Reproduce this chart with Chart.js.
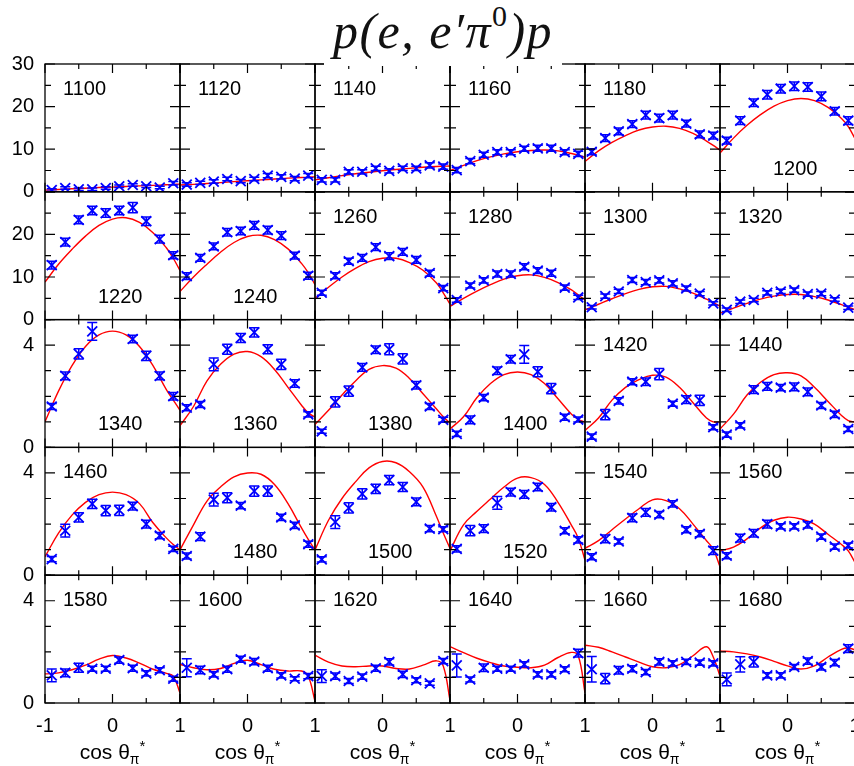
<!DOCTYPE html>
<html><head><meta charset="utf-8">
<script src="https://cdn.jsdelivr.net/npm/chart.js@4.4.1/dist/chart.umd.min.js"></script>
<style>
html,body{margin:0;padding:0;background:#fff;width:854px;height:766px;overflow:hidden}
#wrap{position:relative;width:854px;height:766px;overflow:hidden;background:#fff}
#wrap canvas{position:absolute}
#title{position:absolute;left:324px;top:0;width:238px;height:66px;background:#fff;z-index:5;
 font-family:"Liberation Serif","DejaVu Serif",serif;font-style:italic;font-size:50px;line-height:62px;
 letter-spacing:1.5px;text-align:center;color:#111;white-space:nowrap}
#title sup{font-style:normal;font-size:30px;vertical-align:baseline;position:relative;top:-22px}
</style></head>
<body><div id="wrap"><div id="title">p(e, e′π<sup>0</sup>)p</div></div>
<script>
// ---------- data ----------
const ENERGY = [1100,1120,1140,1160,1180,1200,1220,1240,1260,1280,1300,1320,1340,1360,1380,1400,1420,1440,1460,1480,1500,1520,1540,1560,1580,1600,1620,1640,1660,1680];
const LABEL_AT_BOTTOM = [1200,1220,1240,1340,1360,1380,1400,1480,1500,1520];
const X_POINTS = [-0.9,-0.7,-0.5,-0.3,-0.1,0.1,0.3,0.5,0.7,0.9];
const X_MODEL = [-1,-0.8,-0.6,-0.4,-0.2,0,0.2,0.4,0.6,0.8,0.9,1];
const X_TICKS = [-1,-0.5,0,0.5,1];
const X_LABELED = [-1,0,1];
const Y_TICKS_BIG = [0,5,10,15,20,25,30];
const Y_LABELS_ROW1 = [0,10,20,30];
const Y_LABELS_ROW2 = [0,10,20];
const Y_TICKS_SMALL = [0,1,2,3,4,5];
const Y_LABELS_SMALL = [0,4];

const d1100=[0.4,0.9,0.6,0.6,0.9,1.3,1.6,1.3,1.0,2.0];
const e1100=[0.3,0.3,0.3,0.3,0.3,0.3,0.3,0.3,0.3,0.4];
const m1100=[0.4,0.55,0.7,0.85,1.0,1.1,1.25,1.4,1.5,1.65,1.72,1.8];
const d1120=[1.7,2.1,2.4,3.0,2.5,3.0,3.8,3.5,3.1,3.8];
const e1120=[0.4,0.4,0.4,0.4,0.4,0.4,0.5,0.5,0.5,0.5];
const m1120=[1.6,1.75,1.95,2.15,2.4,2.6,2.8,3.0,3.2,3.35,3.45,3.5];
const d1140=[2.8,2.8,4.7,4.7,5.5,4.9,5.5,5.5,6.2,5.9];
const e1140=[0.5,0.5,0.5,0.5,0.5,0.5,0.5,0.5,0.6,0.6];
const m1140=[2.8,3.3,3.8,4.25,4.6,4.95,5.25,5.5,5.75,5.95,6.0,6.05];
const d1160=[5.1,7.2,8.7,9.3,9.3,10.1,10.2,10.2,9.3,8.9];
const e1160=[0.6,0.6,0.6,0.6,0.6,0.6,0.7,0.7,0.6,0.6];
const m1160=[5.0,6.2,7.3,8.2,8.9,9.4,9.7,9.8,9.6,9.0,8.6,8.1];
const d1180=[9.4,12.6,14.2,15.9,18.0,17.3,18.0,16.0,13.5,13.2];
const e1180=[0.7,0.8,0.8,0.8,0.9,0.9,0.9,0.8,0.8,0.8];
const m1180=[7.1,9.6,11.6,13.2,14.5,15.2,15.4,14.9,13.7,11.9,10.9,9.8];
const d1200=[12.0,16.7,20.9,22.8,24.2,24.8,24.6,22.4,18.9,16.7];
const e1200=[0.8,0.9,0.9,1.0,1.0,1.0,1.0,1.0,0.9,0.9];
const m1200=[9.1,12.6,15.6,18.1,20.1,21.4,21.9,21.4,19.8,17.2,15.3,12.5];
const d1220=[12.8,18.2,23.4,25.6,25.0,25.6,26.3,23.1,18.9,15.1];
const e1220=[0.9,0.9,0.9,1.0,1.0,1.0,1.2,1.0,0.9,0.8];
const m1220=[8.8,13.0,16.5,19.6,22.1,23.6,23.9,22.8,20.4,16.8,14.4,11.5];
const d1240=[10.2,14.5,17.2,20.5,20.8,22.1,21.0,19.7,15.0,10.3];
const e1240=[0.8,0.8,0.8,0.9,0.9,0.9,0.9,0.9,0.8,0.8];
const m1240=[6.6,10.0,13.0,15.8,18.1,19.5,19.8,18.8,16.6,13.2,11.0,8.2];
const d1260=[6.3,10.3,13.7,14.5,17.0,14.9,15.9,14.0,10.9,7.4];
const e1260=[0.6,0.7,0.7,0.8,0.8,0.8,0.8,0.8,0.7,0.6];
const m1260=[5.0,7.6,10.0,12.0,13.6,14.4,14.4,13.4,11.6,8.6,6.3,3.6];
const d1280=[4.6,8.0,9.2,10.7,10.7,12.4,11.5,10.9,7.5,5.2];
const e1280=[0.5,0.6,0.6,0.7,0.7,0.7,0.7,0.7,0.6,0.5];
const m1280=[3.1,5.0,6.7,8.2,9.5,10.3,10.5,9.9,8.7,7.0,5.8,4.6];
const d1300=[2.9,5.5,6.6,9.3,8.8,9.2,8.5,7.3,6.1,3.8];
const e1300=[0.4,0.5,0.5,0.6,0.6,0.6,0.6,0.6,0.5,0.4];
const m1300=[2.3,3.6,4.9,6.1,7.1,7.7,7.8,7.2,6.2,4.8,4.0,3.1];
const d1320=[2.3,4.2,4.6,6.3,6.6,6.9,6.0,6.1,4.7,2.8];
const e1320=[0.4,0.4,0.4,0.5,0.5,0.5,0.5,0.5,0.4,0.4];
const m1320=[1.5,2.7,3.8,4.8,5.5,5.9,5.9,5.4,4.6,3.5,2.9,2.3];
const d1340=[1.6,2.8,3.66,4.54,null,null,4.24,3.58,2.8,2.0];
const e1340=[0.12,0.15,0.2,0.35,0,0,0.15,0.18,0.15,0.15];
const m1340=[1.0,2.2,3.2,3.95,4.4,4.55,4.4,3.95,3.2,2.25,1.85,1.45];
const d1360=[1.55,1.68,3.25,3.84,4.28,4.5,3.84,3.25,2.5,1.29];
const e1360=[0.12,0.12,0.25,0.2,0.18,0.18,0.18,0.2,0.15,0.1];
const m1360=[0.85,1.6,2.6,3.25,3.65,3.75,3.55,3.05,2.35,1.65,1.35,1.18];
const d1380=[0.63,1.78,2.2,3.13,3.82,3.84,3.46,2.43,1.6,1.08];
const e1380=[0.08,0.2,0.2,0.15,0.15,0.22,0.2,0.15,0.12,0.1];
const m1380=[0.9,1.45,2.05,2.6,3.05,3.2,3.1,2.7,2.1,1.5,1.2,0.95];
const d1400=[0.53,1.08,1.95,3.0,3.45,3.64,2.96,2.3,1.18,1.09];
const e1400=[0.1,0.15,0.12,0.15,0.15,0.35,0.2,0.2,0.12,0.1];
const m1400=[0.72,1.2,1.95,2.5,2.85,2.95,2.85,2.5,1.9,1.3,1.1,0.99];
const d1420=[0.42,1.28,1.82,2.57,2.57,2.87,1.71,1.87,1.84,0.79];
const e1420=[0.1,0.2,0.12,0.12,0.15,0.22,0.1,0.15,0.2,0.1];
const m1420=[0.66,1.15,1.85,2.35,2.65,2.82,2.75,2.35,1.75,1.15,1.0,0.99];
const d1440=[0.5,0.86,2.26,2.39,2.34,2.37,2.17,1.64,1.29,0.72];
const e1440=[0.1,0.1,0.15,0.15,0.12,0.15,0.15,0.12,0.12,0.1];
const m1440=[0.72,1.3,2.05,2.55,2.85,2.92,2.8,2.35,1.8,1.25,1.05,0.99];
const d1460=[0.63,1.74,2.26,2.79,2.53,2.54,2.7,2.0,1.55,1.03];
const e1460=[0.1,0.25,0.18,0.18,0.2,0.2,0.15,0.15,0.12,0.1];
const m1460=[0.72,1.65,2.35,2.85,3.15,3.25,3.15,2.8,2.05,1.45,1.2,0.99];
const d1480=[0.75,1.51,2.96,3.03,2.72,3.29,3.29,2.26,1.95,1.21];
const e1480=[0.12,0.15,0.25,0.2,0.12,0.2,0.2,0.12,0.12,0.12];
const m1480=[0.99,1.97,2.9,3.45,3.85,4.0,3.95,3.55,2.8,1.85,1.4,0.99];
const d1500=[0.62,2.08,2.63,3.18,3.38,3.72,3.45,2.87,1.82,1.8];
const e1500=[0.1,0.25,0.2,0.2,0.18,0.18,0.18,0.15,0.12,0.1];
const m1500=[0.99,2.15,3.0,3.65,4.2,4.45,4.4,4.05,3.45,2.3,1.65,1.05];
const d1520=[1.03,1.74,1.82,2.83,3.25,3.16,3.45,2.66,1.74,1.38];
const e1520=[0.12,0.2,0.15,0.25,0.15,0.15,0.15,0.15,0.12,0.12];
const m1520=[0.95,1.97,2.5,2.98,3.45,3.8,3.82,3.55,2.85,1.95,1.45,0.59];
const d1540=[0.72,1.42,1.32,2.24,2.46,2.37,2.79,1.78,1.62,0.96];
const e1540=[0.12,0.15,0.1,0.15,0.15,0.12,0.12,0.12,0.12,0.15];
const m1540=[1.05,1.35,1.78,2.2,2.6,2.95,2.92,2.6,2.0,1.35,1.02,0.33];
const d1560=[0.76,1.45,1.64,2.0,1.91,1.91,1.97,1.51,1.12,1.16];
const e1560=[0.12,0.15,0.15,0.15,0.1,0.1,0.12,0.1,0.1,0.1];
const m1560=[0.95,1.1,1.42,1.85,2.15,2.27,2.2,2.0,1.6,1.2,0.95,0.5];
const d1580=[1.08,1.18,1.38,1.34,1.34,1.68,1.36,1.16,1.28,0.95];
const e1580=[0.25,0.15,0.18,0.1,0.1,0.12,0.12,0.1,0.1,0.1];
const m1580=[1.14,1.18,1.3,1.48,1.72,1.86,1.76,1.56,1.32,1.16,1.05,0.39];
const d1600=[1.38,1.29,1.12,1.32,1.71,1.62,1.36,1.08,0.95,1.05];
const e1600=[0.35,0.15,0.1,0.12,0.12,0.12,0.12,0.1,0.08,0.1];
const m1600=[1.51,1.38,1.3,1.35,1.55,1.67,1.5,1.32,1.25,1.25,1.05,0.07];
const d1620=[1.05,1.05,0.86,1.03,1.36,1.61,1.12,0.89,0.77,1.64];
const e1620=[0.25,0.12,0.1,0.1,0.12,0.12,0.12,0.1,0.08,0.1];
const m1620=[1.87,1.6,1.45,1.42,1.45,1.45,1.35,1.33,1.48,1.65,1.45,0.1];
const d1640=[1.47,0.92,1.38,1.34,1.34,1.51,1.12,1.12,1.32,1.95];
const e1640=[0.45,0.1,0.15,0.1,0.1,0.1,0.1,0.1,0.1,0.15];
const m1640=[2.21,1.97,1.75,1.58,1.45,1.4,1.38,1.48,1.78,1.98,1.85,0.4];
const d1660=[1.32,0.95,1.28,1.34,1.21,1.61,1.55,1.61,1.58,1.55];
const e1660=[0.5,0.2,0.15,0.12,0.1,0.12,0.1,0.1,0.1,0.1];
const m1660=[2.26,2.18,2.0,1.8,1.6,1.42,1.38,1.5,1.85,2.2,1.8,1.05];
const d1680=[0.92,1.51,1.61,1.08,1.08,1.41,1.64,1.41,1.58,2.13];
const e1680=[0.25,0.3,0.2,0.1,0.1,0.1,0.12,0.12,0.12,0.15];
const m1680=[2.04,2.0,1.92,1.8,1.63,1.45,1.33,1.45,1.8,2.1,2.15,2.08];

// table built from the named arrays
const PANELS = [
 [d1100,e1100,m1100],[d1120,e1120,m1120],[d1140,e1140,m1140],[d1160,e1160,m1160],[d1180,e1180,m1180],[d1200,e1200,m1200],
 [d1220,e1220,m1220],[d1240,e1240,m1240],[d1260,e1260,m1260],[d1280,e1280,m1280],[d1300,e1300,m1300],[d1320,e1320,m1320],
 [d1340,e1340,m1340],[d1360,e1360,m1360],[d1380,e1380,m1380],[d1400,e1400,m1400],[d1420,e1420,m1420],[d1440,e1440,m1440],
 [d1460,e1460,m1460],[d1480,e1480,m1480],[d1500,e1500,m1500],[d1520,e1520,m1520],[d1540,e1540,m1540],[d1560,e1560,m1560],
 [d1580,e1580,m1580],[d1600,e1600,m1600],[d1620,e1620,m1620],[d1640,e1640,m1640],[d1660,e1660,m1660],[d1680,e1680,m1680]
];

// ---------- layout / style ----------
const FONT = '"Liberation Sans", Arial, Helvetica, sans-serif';
const BLUE = '#0000ff', RED = '#ff0000';
const X0 = 45, CW = 135, Y0 = 64, RH = 127.8;
const FULL_W = 900, FULL_H = 766;
const MX = 30, MY = 30;
const wrap = document.getElementById('wrap');

function makePanel(k) {
  const r = Math.floor(k / 6), c = k % 6;
  const [vals, errs, model] = PANELS[k];
  const energy = ENERGY[k];
  const left = X0 + c * CW, right = left + CW, top = Y0 + r * RH, bottom = top + RH;
  const showY = c === 0, showX = r === 4;
  const ox = c === 0 ? 0 : Math.floor(left) - MX;
  const oy = Math.floor(top) - MY;
  const cw = (c === 5 ? FULL_W : Math.ceil(right) + MX) - ox;
  const ch = (r === 4 ? FULL_H : Math.ceil(bottom) + MY) - oy;
  const L = left - ox, R = right - ox, T = top - oy, B = bottom - oy;

  const cv = document.createElement('canvas');
  cv.width = cw; cv.height = ch;
  cv.style.left = ox + 'px'; cv.style.top = oy + 'px';
  cv.style.width = cw + 'px'; cv.style.height = ch + 'px';
  wrap.appendChild(cv);

  const big = r < 2;
  const yMax = big ? 30 : 5;
  const yTicks = big ? Y_TICKS_BIG : Y_TICKS_SMALL;
  const yLabels = r === 0 ? Y_LABELS_ROW1 : (r === 1 ? Y_LABELS_ROW2 : Y_LABELS_SMALL);
  const yMajor = big ? Y_LABELS_ROW1 : Y_LABELS_SMALL;

  const pts = [];
  vals.forEach((v, i) => { if (v !== null) pts.push({x: X_POINTS[i], y: v}); });
  const curve = X_MODEL.map((x, i) => ({x: x, y: model[i]}));

  const panelPlugin = {
    id: 'panelDeco' + k,
    afterDatasetsDraw(chart) {
      const {ctx, chartArea: a, scales: {x, y}} = chart;
      ctx.save();
      ctx.beginPath(); ctx.rect(a.left, a.top - 2, a.width, a.height + 4); ctx.clip();
      ctx.strokeStyle = BLUE; ctx.lineWidth = 1.5;
      vals.forEach((v, i) => {
        if (v === null) return;
        const px = x.getPixelForValue(X_POINTS[i]);
        const y1 = y.getPixelForValue(v - errs[i]);
        const y2 = y.getPixelForValue(v + errs[i]);
        ctx.beginPath();
        ctx.moveTo(px, y1); ctx.lineTo(px, y2);
        ctx.moveTo(px - 5, y1); ctx.lineTo(px + 5, y1);
        ctx.moveTo(px - 5, y2); ctx.lineTo(px + 5, y2);
        ctx.stroke();
      });
      ctx.restore();
    },
    afterDraw(chart) {
      const {ctx, chartArea: a, scales: {x, y}} = chart;
      ctx.save();
      ctx.strokeStyle = '#000'; ctx.lineWidth = 1.3;
      ctx.strokeRect(a.left, a.top, a.width, a.height);
      ctx.lineWidth = 1.2;
      ctx.beginPath();
      X_TICKS.forEach(v => {
        const px = x.getPixelForValue(v);
        const len = X_LABELED.includes(v) ? 9 : 5;
        ctx.moveTo(px, a.top); ctx.lineTo(px, a.top + len);
        ctx.moveTo(px, a.bottom); ctx.lineTo(px, a.bottom - len);
      });
      yTicks.forEach(v => {
        const py = y.getPixelForValue(v);
        const len = yMajor.includes(v) ? 10 : 6;
        ctx.moveTo(a.left, py); ctx.lineTo(a.left + len, py);
        ctx.moveTo(a.right, py); ctx.lineTo(a.right - len, py);
      });
      ctx.stroke();
      // panel energy label
      ctx.fillStyle = '#000';
      ctx.font = '20px ' + FONT;
      ctx.textAlign = 'left'; ctx.textBaseline = 'alphabetic';
      if (LABEL_AT_BOTTOM.includes(energy)) ctx.fillText(String(energy), a.left + 53, a.bottom - 17);
      else ctx.fillText(String(energy), a.left + 18, a.top + 31);
      // x axis title
      if (showX) {
        const cx = (a.left + a.right) / 2, base = 759 - oy;
        ctx.font = '21px ' + FONT; const w1 = ctx.measureText('cos θ').width;
        ctx.font = '14px ' + FONT; const wp = ctx.measureText('π').width;
        ctx.font = '15px ' + FONT; const ws = ctx.measureText('*').width;
        let xx = cx - (w1 + wp + ws) / 2;
        ctx.font = '21px ' + FONT; ctx.fillText('cos θ', xx, base); xx += w1;
        ctx.font = '14px ' + FONT; ctx.fillText('π', xx, base + 5); xx += wp;
        ctx.font = '15px ' + FONT; ctx.fillText('*', xx, base - 8);
      }
      ctx.restore();
    }
  };

  new Chart(cv, {
    type: 'scatter',
    data: {datasets: [
      {data: pts, showLine: false, pointStyle: 'crossRot', pointRadius: 7, pointBorderWidth: 1.8,
       pointBorderColor: BLUE, borderColor: BLUE, backgroundColor: BLUE, order: 0},
      {data: curve, showLine: true, borderColor: RED, borderWidth: 1.4, pointRadius: 0,
       tension: 0.4, fill: false, order: 1}
    ]},
    options: {
      responsive: false, animation: false, events: [], devicePixelRatio: 1,
      layout: {padding: {left: showY ? L - 45 : L, right: cw - R, top: T, bottom: showX ? ch - B - 63 : ch - B}},
      plugins: {legend: {display: false}, tooltip: {enabled: false}, title: {display: false}},
      scales: {
        x: {type: 'linear', min: -1, max: 1, display: showX,
            grid: {display: false, drawTicks: false}, border: {display: false},
            ticks: {stepSize: 0.5, autoSkip: false, maxRotation: 0, minRotation: 0, padding: 11,
                    color: '#000', font: {family: FONT, size: 20},
                    callback: (v) => (v === 0 ? '0' : v === 1 ? '1' : (v === -1 && c === 0) ? '-1' : '')},
            afterFit: showX ? (s) => { s.height = 63; } : undefined},
        y: {type: 'linear', min: 0, max: yMax, display: showY,
            grid: {display: false, drawTicks: false}, border: {display: false},
            ticks: {stepSize: big ? 10 : 1, autoSkip: false, padding: 11,
                    color: '#000', font: {family: FONT, size: 20},
                    callback: (v) => (yLabels.includes(v) ? String(v) : '')},
            afterFit: showY ? (s) => { s.width = 45; } : undefined}
      }
    },
    plugins: [panelPlugin]
  });
}

for (let k = 0; k < 30; k++) makePanel(k);
</script>
</body></html>
